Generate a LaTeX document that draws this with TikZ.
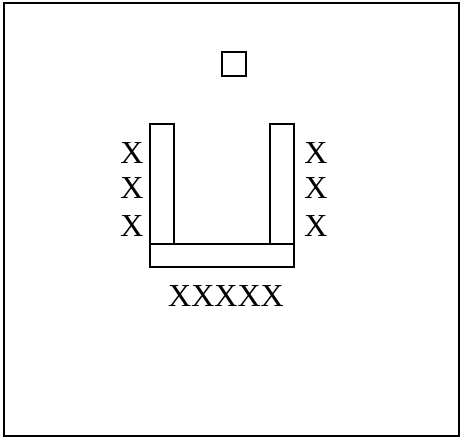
\documentclass[tikz,border=0pt]{standalone}
\usepackage{fontspec}
\setmainfont{Liberation Serif}
\usepackage{tikz}

\begin{document}
\begin{tikzpicture}[x=1pt, y=-1pt,
  bar/.style={draw, line width=2pt, inner sep=0pt, minimum width=24pt},
  lbl/.style={font=\fontsize{32}{32}\selectfont, inner sep=0pt},
]
\useasboundingbox (0,0) rectangle (461,438);

% ---- Frame ----
\draw[line width=2.2pt] (4,3) rectangle (459,436);

% ---- Lid ----
\node[bar, minimum height=24pt] (lid) at (234,64) {};

% ---- U shape ----
\node[bar, minimum height=120pt] (lbar) at (162,184) {};
\node[bar, minimum height=120pt] (rbar) at (282,184) {};
\node[bar, minimum width=144pt, minimum height=23pt] (base) at (222,255.5) {};

% ---- Labels ----
\node[lbl] (l1) at (132,153) {X};
\node[lbl] (l2) at (132,188.5) {X};
\node[lbl] (l3) at (132,226) {X};
\node[lbl] (r1) at (316,153) {X};
\node[lbl] (r2) at (316,188.5) {X};
\node[lbl] (r3) at (316,226) {X};
\node[lbl] (bottom) at (226,296.5) {XXXXX};

\end{tikzpicture}
\end{document}
